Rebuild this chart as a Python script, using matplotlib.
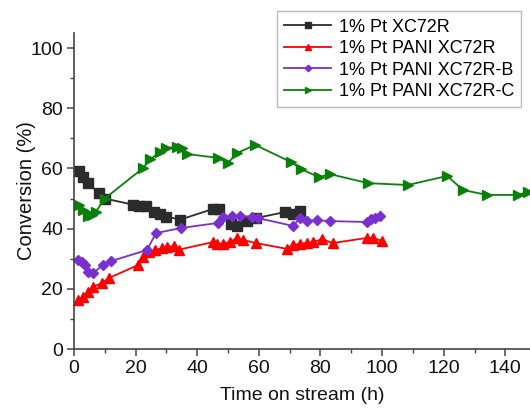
import matplotlib
matplotlib.use("Agg")
import matplotlib.pyplot as plt
from matplotlib.ticker import MultipleLocator

plt.rcParams['font.family'] = ['Liberation Sans', 'DejaVu Sans']

# 1% Pt XC72R
x_pt = [1.5, 3, 4.5, 8, 10, 19, 21, 23.5, 26, 28, 30, 34.5, 45, 47, 51, 53, 56, 59, 68.5, 71, 73.5]
y_pt = [59, 57, 55, 52, 50, 48, 47.5, 47.5, 45.5, 45, 44, 43, 46.5, 46.5, 41.5, 41, 42.5, 43.5, 45.5, 45, 46]

# 1% Pt PANI XC72R
x_pani = [1.3, 2.9, 4.6, 6.2, 9, 11.4, 20.8, 22.4, 24.4, 26.3, 28.6, 30.2, 32.5, 34, 45, 46.5, 48.5,
          50.5, 53, 55, 59, 69, 71, 73.5, 75.5, 77.5, 80.5, 84, 95, 97, 100]
y_pani = [16.3, 17.3, 18.9, 20.6, 21.9, 23.6, 27.9, 30.6, 32.2, 32.9, 33.5, 33.9, 34.2, 33, 35.5, 35, 35,
          35.5, 36.9, 36.2, 35.2, 33.3, 34.5, 35, 35.2, 35.5, 36.5, 35.2, 36.9, 36.9, 35.9]

# 1% Pt PANI XC72R-B
x_b = [1.3, 2.6, 3.6, 4.6, 6.2, 9.4, 12, 23.7, 26.6, 34.7, 46.8, 48.4, 51.3, 53.9, 57.8, 59.7,
       71.1, 73.4, 75.6, 78.9, 83.1, 95.1, 96.4, 97.7, 99.4]
y_b = [29.6, 29, 27.9, 25.6, 25.2, 27.9, 29.2, 32.9, 38.5, 40.2, 41.9, 43.9, 44.2, 44.2, 43.9, 43.5,
       40.9, 43.5, 42.5, 42.8, 42.5, 42.2, 43.2, 43.5, 44.2]

# 1% Pt PANI XC72R-C
x_c = [1.5, 3, 4.5, 5.8, 7, 10, 22.4, 24.7, 27.9, 30, 33.5, 35.2, 36.6, 46.8, 50, 52.9, 58.8, 70.5,
       73.7, 79.5, 83.1, 95.5, 108.4, 121.1, 126.3, 134.1, 144.2, 147.4]
y_c = [48, 46.2, 44.2, 44.5, 45.5, 50, 60.1, 63, 65.4, 66.8, 67.2, 66.9, 64.8, 63.5, 61.8, 65.1, 67.8, 62.1,
       59.8, 57.1, 58.1, 55.1, 54.5, 57.5, 52.8, 51.2, 51.2, 52.2]

series = [
    (x_pt, y_pt, "1% Pt XC72R", "#2b2b2b", "s"),
    (x_pani, y_pani, "1% Pt PANI XC72R", "#ff0000", "^"),
    (x_b, y_b, "1% Pt PANI XC72R-B", "#7a2fd0", "D"),
    (x_c, y_c, "1% Pt PANI XC72R-C", "#0a800a", ">"),
]

fig = plt.figure(figsize=(5.3, 4.08), dpi=100)
ax = fig.add_axes([0.1396, 0.1446, 0.8604, 0.7745])

for xs, ys, label, color, marker in series:
    ms = 5.5 if marker == "D" else 6.5
    ax.plot(xs, ys, color=color, marker=marker, markersize=ms, linewidth=1.3,
            label=label, clip_on=False)

ax.set_xlim(0, 148)
ax.set_ylim(0, 105)
ax.xaxis.set_major_locator(MultipleLocator(20))
ax.xaxis.set_minor_locator(MultipleLocator(10))
ax.yaxis.set_major_locator(MultipleLocator(20))
ax.yaxis.set_minor_locator(MultipleLocator(10))

for side in ("top", "right"):
    ax.spines[side].set_visible(False)
for side in ("left", "bottom"):
    ax.spines[side].set_color("#444444")
    ax.spines[side].set_linewidth(1.2)

ax.tick_params(which="major", direction="out", length=5, width=1.1, color="#444444",
               labelsize=14, labelcolor="#111111", pad=3)
ax.tick_params(which="minor", direction="out", length=3, width=1.0, color="#444444")

ax.set_xlabel("Time on stream (h)", fontsize=14, color="#111111", labelpad=7)
ax.set_ylabel("Conversion (%)", fontsize=14.5, color="#111111", labelpad=-4)

leg = ax.legend(loc="upper right", bbox_to_anchor=(0.983, 0.972), bbox_transform=fig.transFigure,
                fontsize=13, frameon=True, fancybox=False, edgecolor="#aaaaaa",
                handlelength=2.6, handletextpad=0.4, borderpad=0.4, labelspacing=0.25,
                borderaxespad=0, markerscale=0.6)
leg.get_frame().set_linewidth(1.0)

fig.savefig("out.png", dpi=100)
